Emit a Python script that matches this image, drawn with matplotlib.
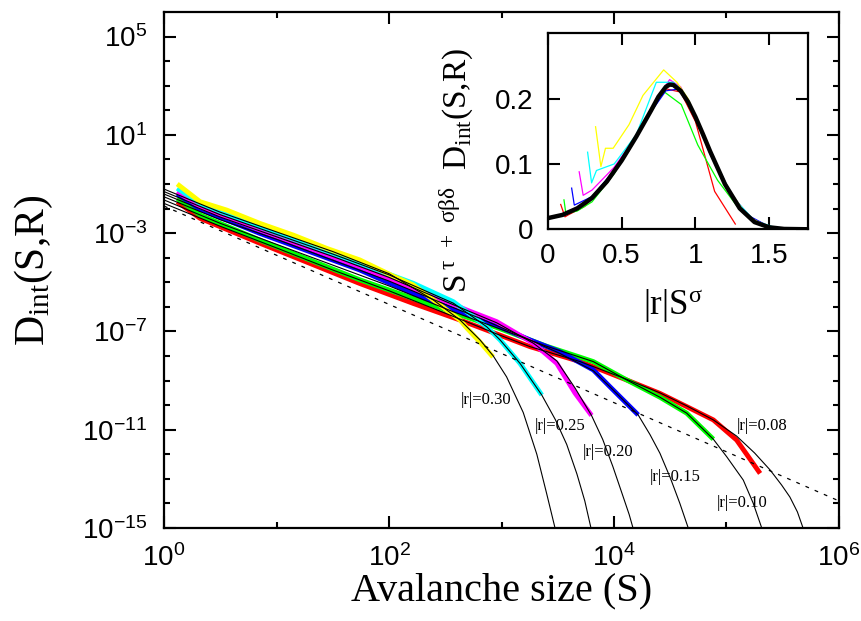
import matplotlib
matplotlib.use('Agg')
import numpy as np
import matplotlib.pyplot as plt
from matplotlib.ticker import FixedLocator, FixedFormatter, FuncFormatter, NullFormatter

plt.rcParams['font.family'] = 'Liberation Sans'
plt.rcParams['mathtext.fontset'] = 'custom'
plt.rcParams['mathtext.rm'] = 'Liberation Serif'
plt.rcParams['mathtext.it'] = 'Liberation Serif:italic'
plt.rcParams['mathtext.sf'] = 'Liberation Sans'

# ---- main panel: simulation data (thick coloured lines) ----
r_labels = ['|r|=0.30', '|r|=0.25', '|r|=0.20', '|r|=0.15', '|r|=0.10', '|r|=0.08']
colors = ['#ffff00', '#00ffff', '#ff00ff', '#0000ff', '#00ff00', '#ff0000']

yellow_S = [1.31, 2.09, 3.6, 7.1, 14.1, 27.9, 55, 109, 164, 248, 326, 428, 491, 644, 840]
yellow_D = [1.0e-1, 1.9e-2, 8.7e-3, 2.5e-3, 8.3e-4, 2.4e-4, 8.1e-5, 1.78e-5, 7.8e-6,
            1.9e-6, 7.4e-7, 2.9e-7, 1.38e-7, 3.7e-8, 9.1e-9]

cyan_S = [1.31, 2.09, 7.1, 55, 164, 373, 738, 971, 1460, 2280]
cyan_D = [6.7e-2, 1.62e-2, 1.82e-3, 5.9e-5, 9.1e-6, 1.62e-6, 1.55e-7, 4.5e-8, 5.0e-9, 2.57e-10]

magenta_S = [1.31, 2.09, 7.1, 55, 326, 491, 906, 1920, 3100, 4500, 6310]
magenta_D = [4.9e-2, 1.2e-2, 1.35e-3, 4.3e-5, 1.62e-6, 7.4e-7, 2.5e-7, 3.3e-8, 5.0e-9,
             3.1e-10, 3.8e-11]

blue_S = [1.31, 2.09, 7.1, 55, 164, 373, 644, 1790, 3310, 6550, 9200, 16400]
blue_D = [3.9e-2, 9.3e-3, 9.8e-4, 3.16e-5, 3.5e-6, 7.9e-7, 3.4e-7, 4.5e-8, 1.48e-8,
          2.7e-9, 5.6e-10, 4.0e-11]

green_S = [1.31, 2.09, 7.1, 55, 164, 373, 906, 2510, 5000, 6550, 13000, 25600, 44300, 76400]
green_D = [2.6e-2, 5.5e-3, 5.2e-4, 1.26e-5, 2.2e-6, 5.9e-7, 1.45e-7, 2.5e-8, 8.9e-9,
           5.9e-9, 1.05e-9, 2.1e-10, 4.7e-11, 4.1e-12]

red_S = [1.31, 2.09, 7.1, 55, 164, 428, 906, 1790, 5000, 13000, 25600, 44300, 76400,
         123000, 199000]
red_D = [1.9e-2, 4.0e-3, 3.9e-4, 8.9e-6, 1.38e-6, 2.9e-7, 7.9e-8, 2.4e-8, 5.9e-9, 1.05e-9,
         3.0e-10, 8.7e-11, 2.5e-11, 3.8e-12, 1.66e-13]

# ---- main panel: scaling-function fits (thin black lines) ----
fit030_S = [1, 3.16, 10, 31.6, 100, 248, 428, 644, 845, 1110, 1560, 2060, 2520, 2990, 3310]
fit030_D = [6.2e-2, 7.1e-3, 1.12e-3, 1.78e-4, 2.24e-5, 1.9e-6, 2.9e-7, 4.5e-8, 1.0e-8,
            1.41e-9, 5.0e-11, 1.0e-12, 2.5e-14, 1.0e-15, 1.0e-16]

fit025_S = [1, 3.16, 10, 31.6, 100, 373, 738, 971, 1460, 2280, 3020, 3800, 4680, 5500,
            6240, 6760]
fit025_D = [4.9e-2, 5.6e-3, 8.9e-4, 1.41e-4, 2.0e-5, 1.41e-6, 1.55e-7, 4.5e-8, 5.0e-9,
            2.57e-10, 2.5e-11, 2.5e-12, 1.58e-13, 1.26e-14, 1.0e-15, 1.0e-16]

fit020_S = [1, 3.16, 10, 31.6, 100, 326, 906, 1920, 3100, 4500, 6310, 7940, 9770, 12000,
            13650, 14860, 16200]
fit020_D = [3.9e-2, 4.5e-3, 7.1e-4, 1.12e-4, 1.58e-5, 1.58e-6, 2.24e-7, 3.3e-8, 6.3e-9,
            5.0e-10, 3.8e-11, 4.0e-12, 3.16e-13, 2.0e-14, 3.5e-15, 8.9e-16, 1.0e-16]

fit015_S = [1, 3.16, 10, 31.6, 100, 316, 644, 1790, 3310, 6550, 9200, 16400, 20900, 25600,
            31600, 38500, 45700, 50100]
fit015_D = [3.0e-2, 3.5e-3, 5.6e-4, 7.9e-5, 1.12e-5, 1.26e-6, 3.4e-7, 4.5e-8, 1.26e-8,
            2.5e-9, 5.6e-10, 4.0e-11, 6.3e-12, 1.1e-12, 1.12e-13, 1.0e-14, 1.0e-15, 1.0e-16]

fit010_S = [1, 3.16, 10, 31.6, 100, 373, 906, 2510, 6550, 13000, 25600, 44300, 76400,
            100500, 141000, 173000, 204000, 219000]
fit010_D = [2.24e-2, 2.5e-3, 3.5e-4, 5.0e-5, 7.1e-6, 6.3e-7, 1.41e-7, 2.5e-8, 5.9e-9,
            1.05e-9, 2.1e-10, 4.7e-11, 4.1e-12, 7.9e-13, 8.9e-14, 1.0e-14, 1.12e-15, 1.0e-16]

fit008_S = [1, 3.16, 10, 31.6, 100, 428, 906, 1790, 5000, 13000, 25600, 44300, 76400,
            123000, 178000, 244000, 309000, 366000, 427000, 475000, 513000]
fit008_D = [1.62e-2, 1.9e-3, 2.5e-4, 3.16e-5, 4.5e-6, 3.16e-7, 7.9e-8, 2.4e-8, 5.9e-9,
            1.12e-9, 3.16e-10, 9.3e-11, 2.5e-11, 5.5e-12, 1.12e-12, 2.3e-13, 5.6e-14,
            1.82e-14, 4.5e-15, 1.12e-15, 1.0e-16]

# pure power law (dashed)
power_S = [1, 1e6]
power_D = [1.26e-2, 1.26e-14]

# ---- inset: scaling collapse ----
in_yellow_x = [0.324, 0.36, 0.391, 0.443, 0.55, 0.645, 0.785, 0.875, 0.95, 1.05, 1.2, 1.35, 1.5]
in_yellow_y = [0.157, 0.096, 0.124, 0.124, 0.16, 0.205, 0.244, 0.225, 0.2, 0.148, 0.07, 0.02, 0.003]
in_cyan_x = [0.27, 0.297, 0.33, 0.45, 0.6, 0.735, 0.85, 0.92, 1.0, 1.1, 1.25, 1.4, 1.55]
in_cyan_y = [0.118, 0.071, 0.09, 0.1, 0.145, 0.225, 0.225, 0.21, 0.17, 0.12, 0.05, 0.013, 0.002]
in_magenta_x = [0.213, 0.24, 0.3, 0.45, 0.6, 0.7, 0.825, 0.9, 1.0, 1.1, 1.25, 1.4]
in_magenta_y = [0.088, 0.052, 0.06, 0.095, 0.143, 0.185, 0.229, 0.218, 0.172, 0.12, 0.05, 0.012]
in_blue_x = [0.162, 0.18, 0.3, 0.45, 0.6, 0.7, 0.8, 0.9, 1.0, 1.1, 1.2, 1.35, 1.5]
in_blue_y = [0.063, 0.037, 0.05, 0.09, 0.14, 0.18, 0.212, 0.215, 0.17, 0.115, 0.068, 0.022, 0.004]
in_green_x = [0.11, 0.123, 0.2, 0.3, 0.45, 0.6, 0.7, 0.785, 0.904, 1.016, 1.15, 1.3, 1.45]
in_green_y = [0.045, 0.024, 0.028, 0.042, 0.085, 0.14, 0.18, 0.211, 0.191, 0.129, 0.075, 0.03, 0.005]
in_red_x = [0.088, 0.117, 0.139, 0.25, 0.4, 0.55, 0.7, 0.8, 0.9, 1.0, 1.13, 1.27]
in_red_y = [0.038, 0.019, 0.022, 0.035, 0.07, 0.12, 0.185, 0.215, 0.21, 0.165, 0.058, 0.008]

fit_x = [0, 0.1, 0.2, 0.3, 0.4, 0.5, 0.6, 0.7, 0.75, 0.8, 0.825, 0.85, 0.9, 0.95, 1.0,
         1.05, 1.1, 1.2, 1.3, 1.4, 1.5, 1.6, 1.76]
fit_y = [0.017, 0.022, 0.032, 0.048, 0.073, 0.105, 0.142, 0.182, 0.203, 0.218, 0.2215,
         0.221, 0.212, 0.195, 0.172, 0.146, 0.119, 0.069, 0.032, 0.011, 0.003, 0.0005, 0.0]

data_S = [yellow_S, cyan_S, magenta_S, blue_S, green_S, red_S]
data_D = [yellow_D, cyan_D, magenta_D, blue_D, green_D, red_D]
fits_S = [fit030_S, fit025_S, fit020_S, fit015_S, fit010_S, fit008_S]
fits_D = [fit030_D, fit025_D, fit020_D, fit015_D, fit010_D, fit008_D]
inset_x = [in_yellow_x, in_cyan_x, in_magenta_x, in_blue_x, in_green_x, in_red_x]
inset_y = [in_yellow_y, in_cyan_y, in_magenta_y, in_blue_y, in_green_y, in_red_y]

fig = plt.figure(figsize=(8.62, 6.21), dpi=100)
ax = fig.add_axes([0.1903, 0.1498, 0.7830, 0.8309])

# red first, yellow last
for i in range(5, -1, -1):
    ax.plot(data_S[i], data_D[i], color=colors[i], lw=3.5, solid_capstyle='butt', zorder=2)
for i in range(6):
    ax.plot(fits_S[i], fits_D[i], color='black', lw=0.8, zorder=3)
ax.plot(power_S, power_D, color='black', lw=0.9, dashes=(3, 5), zorder=3)

ax.set_xscale('log')
ax.set_yscale('log')
ax.set_xlim(1, 1e6)
ax.set_ylim(1e-15, 1e6)

ax.xaxis.set_major_locator(FixedLocator([1, 1e2, 1e4, 1e6]))
ax.xaxis.set_minor_locator(FixedLocator([1e1, 1e3, 1e5]))
ax.yaxis.set_major_locator(FixedLocator([1e-15, 1e-11, 1e-7, 1e-3, 1e1, 1e5]))
ax.yaxis.set_minor_locator(FixedLocator([10.0 ** k for k in range(-14, 6) if (k + 15) % 4]))
pow_fmt = FuncFormatter(lambda v, p: r'$\mathsf{10^{%d}}$' % int(round(np.log10(v))))
ax.xaxis.set_major_formatter(pow_fmt)
ax.yaxis.set_major_formatter(pow_fmt)
ax.xaxis.set_minor_formatter(NullFormatter())
ax.yaxis.set_minor_formatter(NullFormatter())

ax.tick_params(which='both', direction='in', top=True, right=True, width=1.5)
ax.tick_params(which='major', length=8.5, labelsize=20)
ax.tick_params(axis='x', which='major', pad=12)
ax.tick_params(axis='y', which='major', pad=12)
ax.tick_params(which='minor', length=4.5)
for sp in ax.spines.values():
    sp.set_linewidth(1.6)

ax.set_xlabel('Avalanche size (S)', fontsize=29, family='Liberation Serif')
ax.set_ylabel(r'$\mathrm{D_{int}(S{,}R)}$', fontsize=30)
ax.xaxis.set_label_coords(0.5, -0.086)
ax.yaxis.set_label_coords(-0.162, 0.5)

# curve labels
label_pos = [(728, 1.6e-10), (3310, 1.4e-11), (8850, 1.23e-12),
             (34800, 1.18e-13), (137000, 1.05e-14), (207000, 1.4e-11)]
for txt, (xs, ys) in zip(r_labels, label_pos):
    ax.text(xs, ys, txt, fontsize=12, family='Liberation Serif', ha='center', va='center')

# ---- inset ----
ax2 = fig.add_axes([0.6354, 0.6308, 0.3016, 0.3156])
for i in range(5, -1, -1):
    ax2.plot(inset_x[i], inset_y[i], color=colors[i], lw=0.9)
ax2.plot(fit_x, fit_y, color='black', lw=3.2)
ax2.set_xlim(0, 1.76)
ax2.set_ylim(0, 0.3)
ax2.xaxis.set_major_locator(FixedLocator([0, 0.5, 1, 1.5]))
ax2.xaxis.set_major_formatter(FixedFormatter(['0', '0.5', '1', '1.5']))
ax2.yaxis.set_major_locator(FixedLocator([0, 0.1, 0.2]))
ax2.yaxis.set_major_formatter(FixedFormatter(['0', '0.1', '0.2']))
ax2.tick_params(direction='in', top=True, right=True, width=1.5, length=8.5,
                labelsize=20, pad=10)
for sp in ax2.spines.values():
    sp.set_linewidth(1.6)
ax2.set_xlabel(r'$\mathrm{|r|S^{σ}}$', fontsize=25)
ax2.set_ylabel(r'$\mathrm{S^{\hspace{0.3}τ\hspace{0.5}+\hspace{0.5}σβδ}\hspace{0.7}D_{int}(S{,}R)}$',
               fontsize=24)
ax2.xaxis.set_label_coords(0.48, -0.30)
ax2.yaxis.set_label_coords(-0.275, 0.30)

fig.savefig('out.png', dpi=100)
